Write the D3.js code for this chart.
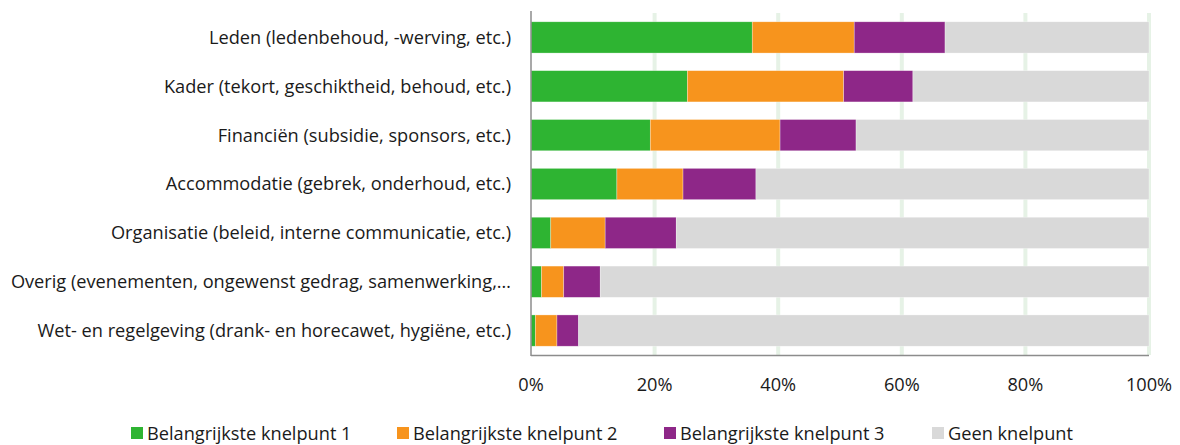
<!DOCTYPE html>
<html>
<head>
<meta charset="utf-8">
<script src="https://cdn.jsdelivr.net/npm/d3@7"></script>
<style>
  body { margin: 0; background: #fff; }
  svg { font-family: "Open Sans", sans-serif; }
</style>
</head>
<body>
<svg id="chart" width="1180" height="445"></svg>
<script>
// --- Data (percent of respondents) ---
const categories = [
  "Leden (ledenbehoud, -werving, etc.)",
  "Kader (tekort, geschiktheid, behoud, etc.)",
  "Financiën (subsidie, sponsors, etc.)",
  "Accommodatie (gebrek, onderhoud, etc.)",
  "Organisatie (beleid, interne communicatie, etc.)",
  "Overig (evenementen, ongewenst gedrag, samenwerking,…",
  "Wet- en regelgeving (drank- en horecawet, hygiëne, etc.)"
];
const seriesNames = ["Belangrijkste knelpunt 1", "Belangrijkste knelpunt 2", "Belangrijkste knelpunt 3", "Geen knelpunt"];
const knelpunt1 = [35.8, 25.3, 19.3, 13.9, 3.2, 1.7, 0.7];
const knelpunt2 = [16.5, 25.3, 21.0, 10.7, 8.8, 3.6, 3.5];
const knelpunt3 = [14.7, 11.2, 12.3, 11.8, 11.5, 5.9, 3.5];
const geen      = [33.0, 38.2, 47.4, 63.6, 76.5, 88.8, 92.3];
const ticks = [0, 20, 40, 60, 80, 100];
const colors = ["#2eb432", "#f7941d", "#8e2788", "#d9d9d9"];

const rows = categories.map((c, i) => ({
  cat: c,
  [seriesNames[0]]: knelpunt1[i],
  [seriesNames[1]]: knelpunt2[i],
  [seriesNames[2]]: knelpunt3[i],
  [seriesNames[3]]: geen[i]
}));

const svg = d3.select("#chart");
const plotL = 531, plotR = 1149, plotT = 13, plotB = 355;
const textColor = "#1a1a1a";
const fs = 18.2;

const x = d3.scaleLinear().domain([0, 100]).range([plotL, plotR]);
const y = d3.scaleBand().domain(categories).range([plotT, plotB])
  .paddingInner(0.36).paddingOuter(0.18);
const color = d3.scaleOrdinal().domain(seriesNames).range(colors);

// gridlines
svg.append("g")
  .selectAll("line")
  .data(ticks.filter(t => t > 0))
  .join("line")
  .attr("x1", d => x(d)).attr("x2", d => x(d))
  .attr("y1", plotT).attr("y2", plotB)
  .attr("stroke", "#e6f2e6")
  .attr("stroke-width", 4);

// stacked bars
const stacked = d3.stack().keys(seriesNames)(rows);
svg.append("g")
  .selectAll("g")
  .data(stacked)
  .join("g")
  .attr("fill", d => color(d.key))
  .selectAll("rect")
  .data(d => d)
  .join("rect")
  .attr("x", d => x(d[0]))
  .attr("width", d => x(d[1]) - x(d[0]))
  .attr("y", d => y(d.data.cat))
  .attr("height", y.bandwidth())
  .attr("stroke", "#ffffff")
  .attr("stroke-opacity", 0.5)
  .attr("stroke-width", 0.6);

// axis lines
svg.append("line")
  .attr("x1", plotL).attr("x2", plotL).attr("y1", plotT - 2).attr("y2", plotB + 1)
  .attr("stroke", "#8c8c8c").attr("stroke-width", 1.5);
svg.append("line")
  .attr("x1", plotL).attr("x2", plotR).attr("y1", plotB + 0.5).attr("y2", plotB + 0.5)
  .attr("stroke", "#8c8c8c").attr("stroke-width", 1.5);

// category labels
svg.append("g")
  .selectAll("text")
  .data(categories)
  .join("text")
  .attr("x", 511)
  .attr("y", d => y(d) + y.bandwidth() / 2)
  .attr("dy", "0.35em")
  .attr("text-anchor", "end")
  .attr("font-size", fs)
  .attr("fill", textColor)
  .text(d => d);

// x tick labels
svg.append("g")
  .selectAll("text")
  .data(ticks)
  .join("text")
  .attr("x", d => x(d))
  .attr("y", 391)
  .attr("text-anchor", "middle")
  .attr("font-size", fs)
  .attr("fill", textColor)
  .text(d => d + "%");

// legend
const legendX = [131, 397, 664, 932];
const legend = svg.append("g")
  .selectAll("g")
  .data(seriesNames)
  .join("g")
  .attr("transform", (d, i) => `translate(${legendX[i]},427)`);
legend.append("rect")
  .attr("width", 12).attr("height", 12)
  .attr("fill", d => color(d));
legend.append("text")
  .attr("x", 16).attr("y", 13)
  .attr("font-size", fs)
  .attr("fill", textColor)
  .text(d => d);
</script>
</body>
</html>
